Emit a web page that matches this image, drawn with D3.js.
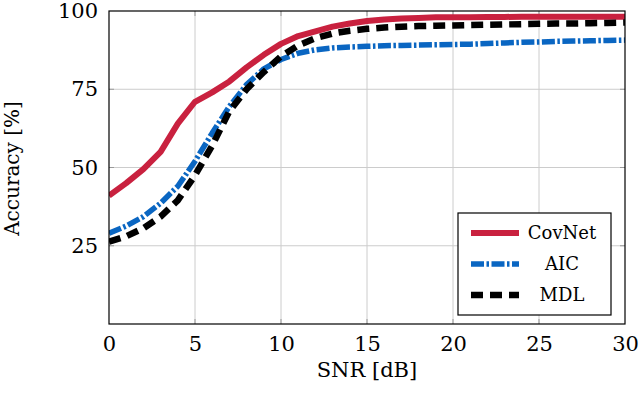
<!DOCTYPE html>
<html>
<head>
<meta charset="utf-8">
<script src="https://cdn.jsdelivr.net/npm/d3@7"></script>
<style>
  body { margin: 0; background: #fff; }
  svg text { fill: #000; }
</style>
</head>
<body>
<div id="chart"></div>
<script>
// SNR values in dB
var snr = d3.range(0, 31);

var covnet = [41, 45, 49.5, 55, 64, 71, 74, 77.5, 82, 86, 89.5, 92, 93.5, 95, 96,
	96.8, 97.3, 97.6, 97.8, 98, 98, 98, 98.1, 98.1, 98.2, 98.2, 98.2, 98.2, 98.2, 98.2, 98.2];
var aic = [29, 31.3, 34.3, 38.6, 44, 52, 61, 69.5, 76.5, 81.5, 84.5, 86.5, 87.6, 88.2, 88.5,
	88.7, 88.9, 89, 89.1, 89.2, 89.3, 89.4, 89.6, 89.8, 90, 90.1, 90.3, 90.4, 90.5, 90.6, 90.7];
var mdl = [26.3, 28, 30.6, 34.3, 39.5, 47.5, 57, 68, 75, 80.5, 85.5, 89, 91.3, 92.8, 93.7,
	94.3, 94.7, 95, 95.2, 95.3, 95.4, 95.5, 95.6, 95.7, 95.8, 95.9, 96, 96, 96.1, 96.2, 96.3];

var xTicks = [0, 5, 10, 15, 20, 25, 30];
var yTicks = [25, 50, 75, 100];

var seriesNames = ['CovNet', 'AIC', 'MDL'];

var serif = 'DejaVu Serif, Liberation Serif, serif';

var totalWidth = 640;
var totalHeight = 397;
var padding = { top: 11, right: 15, bottom: 73, left: 109 };
var width = totalWidth - padding.left - padding.right;
var height = totalHeight - padding.top - padding.bottom;

var styles = {
	'CovNet': { color: '#c9213f', width: 6, dash: null },
	'AIC': { color: '#0a66c2', width: 5.5, dash: '13,2.5,2.5,2.5' },
	'MDL': { color: '#000000', width: 6.5, dash: '12,7' }
};

var x = d3.scaleLinear().domain([0, 30]).range([0, width]);
var y = d3.scaleLinear().domain([0, 100]).range([height, 0]);

var svg = d3.select('#chart').append('svg')
	.attr('width', totalWidth)
	.attr('height', totalHeight)
	.append('g')
	.attr('transform', 'translate(' + padding.left + ',' + padding.top + ')');

// grid
svg.append('g').selectAll('line')
	.data(xTicks.slice(1, -1))
	.enter().append('line')
	.attr('x1', function (d) { return x(d); })
	.attr('x2', function (d) { return x(d); })
	.attr('y1', 0).attr('y2', height)
	.attr('stroke', '#cccccc').attr('stroke-width', 1);
svg.append('g').selectAll('line')
	.data(yTicks.slice(0, -1))
	.enter().append('line')
	.attr('y1', function (d) { return y(d); })
	.attr('y2', function (d) { return y(d); })
	.attr('x1', 0).attr('x2', width)
	.attr('stroke', '#cccccc').attr('stroke-width', 1);

// small inner ticks
var tickLen = 5;
var tickColor = '#999999';
svg.append('g').selectAll('line')
	.data(yTicks.slice(0, -1))
	.enter().append('line')
	.attr('x1', 0).attr('x2', tickLen)
	.attr('y1', function (d) { return y(d); })
	.attr('y2', function (d) { return y(d); })
	.attr('stroke', tickColor);
svg.append('g').selectAll('line')
	.data(yTicks.slice(0, -1))
	.enter().append('line')
	.attr('x1', width - tickLen).attr('x2', width)
	.attr('y1', function (d) { return y(d); })
	.attr('y2', function (d) { return y(d); })
	.attr('stroke', tickColor);
svg.append('g').selectAll('line')
	.data(xTicks.slice(1, -1))
	.enter().append('line')
	.attr('x1', function (d) { return x(d); })
	.attr('x2', function (d) { return x(d); })
	.attr('y1', height - tickLen).attr('y2', height)
	.attr('stroke', tickColor);
svg.append('g').selectAll('line')
	.data(xTicks.slice(1, -1))
	.enter().append('line')
	.attr('x1', function (d) { return x(d); })
	.attr('x2', function (d) { return x(d); })
	.attr('y1', 0).attr('y2', tickLen)
	.attr('stroke', tickColor);

// clip
svg.append('clipPath').attr('id', 'clip')
	.append('rect').attr('width', width).attr('height', height);

var line = d3.line()
	.x(function (d) { return x(d[0]); })
	.y(function (d) { return y(d[1]); });

var seriesData = { 'CovNet': covnet, 'AIC': aic, 'MDL': mdl };

seriesNames.forEach(function (name) {
	var st = styles[name];
	svg.append('path')
		.datum(snr.map(function (s, i) { return [s, seriesData[name][i]]; }))
		.attr('clip-path', 'url(#clip)')
		.attr('fill', 'none')
		.attr('stroke', st.color)
		.attr('stroke-width', st.width)
		.attr('stroke-linejoin', 'round')
		.attr('stroke-dasharray', st.dash)
		.attr('d', line);
});

// frame
svg.append('rect')
	.attr('width', width).attr('height', height)
	.attr('fill', 'none').attr('stroke', '#000').attr('stroke-width', 1.2);

// axes labels
var xAxis = d3.axisBottom(x).tickValues(xTicks).tickSize(0).tickPadding(12);
var gx = svg.append('g').attr('transform', 'translate(0,' + height + ')').call(xAxis);
gx.attr('font-family', serif);
gx.select('.domain').remove();
gx.selectAll('text').style('font-size', '21px').attr('fill', '#000');

var yAxis = d3.axisLeft(y).tickValues(yTicks).tickSize(0).tickPadding(11);
var gy = svg.append('g').call(yAxis);
gy.attr('font-family', serif);
gy.select('.domain').remove();
gy.selectAll('text').style('font-size', '21px').attr('fill', '#000');

svg.append('text')
	.attr('x', width / 2)
	.attr('y', height + 53)
	.attr('text-anchor', 'middle')
	.attr('font-family', serif)
	.style('font-size', '21px')
	.text('SNR [dB]');

svg.append('text')
	.attr('transform', 'translate(' + (-padding.left + 19) + ',' + (height / 2 + 1) + ') rotate(-90)')
	.attr('text-anchor', 'middle')
	.attr('font-family', serif)
	.style('font-size', '20px')
	.text('Accuracy [%]');

// legend
var legend = svg.append('g').attr('transform', 'translate(' + (458 - padding.left) + ',' + (213 - padding.top) + ')');
legend.append('rect')
	.attr('width', 153).attr('height', 102)
	.attr('fill', '#fff').attr('stroke', '#000').attr('stroke-width', 1.2);
seriesNames.forEach(function (name, i) {
	var st = styles[name];
	var ly = 20 + i * 31;
	legend.append('line')
		.attr('x1', 13).attr('x2', 61)
		.attr('y1', ly).attr('y2', ly)
		.attr('stroke', st.color)
		.attr('stroke-width', st.width)
		.attr('stroke-dasharray', st.dash);
	legend.append('text')
		.attr('x', 104).attr('y', ly)
		.attr('dy', '0.35em')
		.attr('text-anchor', 'middle')
		.attr('font-family', serif)
		.style('font-size', '18px')
		.text(name);
});
</script>
</body>
</html>
